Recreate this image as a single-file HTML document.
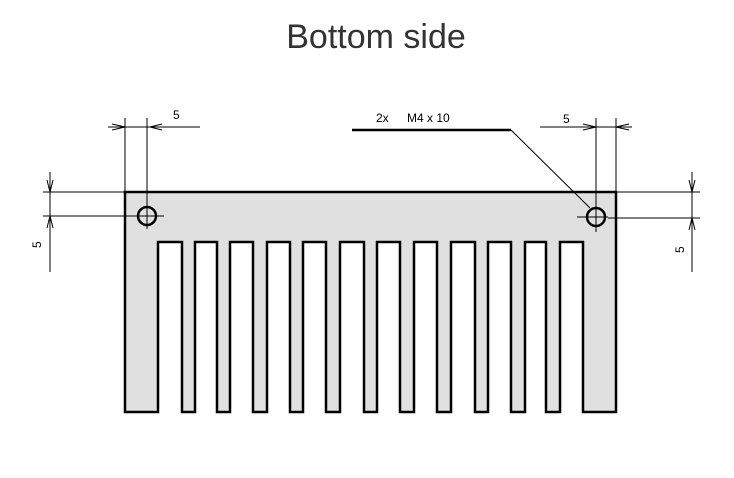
<!DOCTYPE html>
<html><head><style>body{margin:0;background:#fff}svg{display:block}</style></head><body>
<svg width="734" height="478" viewBox="0 0 734 478" xmlns="http://www.w3.org/2000/svg" font-family="Liberation Sans, sans-serif">
<text x="376" y="48" font-size="34" fill="#333" text-anchor="middle">Bottom side</text>
<path d="M125,192 H616 V412 H583 V242 H560 V412 H546 V242 H525 V412 H511 V242 H488 V412 H475 V242 H451 V412 H437 V242 H414 V412 H400 V242 H377 V412 H364 V242 H340 V412 H326 V242 H303 V412 H290 V242 H267 V412 H253 V242 H230 V412 H217 V242 H195 V412 H182 V242 H158 V412 H125 Z" fill="#e0e0e0" stroke="#000" stroke-width="2.5"/>
<g stroke="#000" stroke-width="1" fill="none">
<!-- top left dim -->
<line x1="108" y1="127" x2="200" y2="127"/>
<line x1="125" y1="118" x2="125" y2="192"/>
<line x1="147" y1="118" x2="147" y2="207"/>
<path d="M112,124 L125,127 L112,130 M150,127 L162,124 M150,127 L162,130"/>
<!-- top right dim -->
<line x1="540" y1="127" x2="632" y2="127"/>
<line x1="596" y1="118" x2="596" y2="207"/>
<line x1="616" y1="118" x2="616" y2="192"/>
<path d="M583,124 L596,127 L583,130 M616,127 L629,124 M616,127 L629,130"/>
<!-- left vertical dim -->
<line x1="43" y1="192" x2="125" y2="192"/>
<line x1="43" y1="216" x2="138" y2="216"/>
<line x1="50" y1="172" x2="50" y2="272"/>
<path d="M47,180 L50,192 L53,180 M47,228 L50,216 L53,228"/>
<!-- right vertical dim -->
<line x1="616" y1="192" x2="700" y2="192"/>
<line x1="608" y1="218" x2="700" y2="218"/>
<line x1="692" y1="172" x2="692" y2="272"/>
<path d="M689,180 L692,192 L695,180 M689,230 L692,218 L695,230"/>
<!-- leader -->
<line x1="511" y1="130" x2="590" y2="208"/>
<!-- hole crosshairs -->
<line x1="134" y1="216" x2="164" y2="216"/>
<line x1="147" y1="203" x2="147" y2="229"/>
<line x1="577" y1="217" x2="608" y2="217"/>
<line x1="596" y1="203" x2="596" y2="232"/>
</g>
<line x1="352" y1="130" x2="511" y2="130" stroke="#000" stroke-width="2.5"/>
<circle cx="147" cy="216" r="9" fill="none" stroke="#000" stroke-width="2.5"/>
<circle cx="596" cy="217" r="9" fill="none" stroke="#000" stroke-width="2.5"/>
<g font-size="12" fill="#000">
<text x="173" y="119">5</text>
<text x="563" y="123">5</text>
<text x="376" y="122">2x</text>
<text x="407" y="122">M4  x 10</text>
<text transform="translate(41,248) rotate(-90)">5</text>
<text transform="translate(684,253) rotate(-90)">5</text>
</g>
</svg>
</body></html>
